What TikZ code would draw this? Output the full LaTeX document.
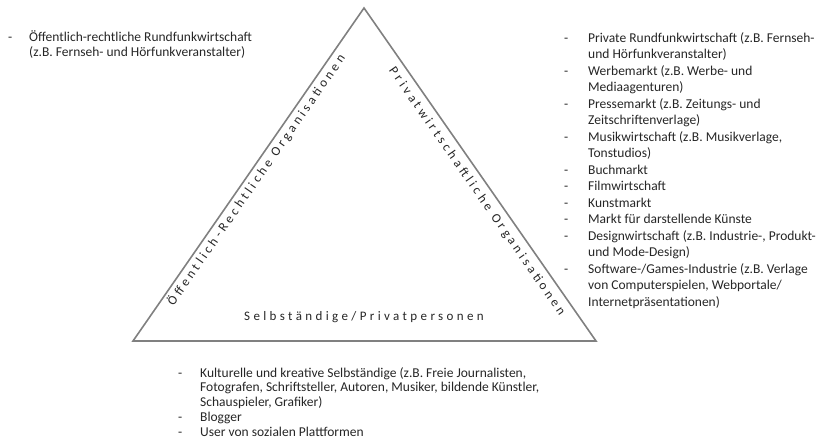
\documentclass[tikz,border=0pt]{standalone}
\usepackage{fontspec}
\setmainfont{Carlito}
\newfontfamily\spacedfont[LetterSpace=26]{Carlito}
% #1 = line distance, #2 = width of the dash column
\newenvironment{dashlist}[2]{\fontsize{13.5}{#1}\selectfont\begin{tabular}[t]{@{}p{#2}@{}l@{}}}{\end{tabular}}
\tikzset{
  edge/.style={draw=black!50, line width=1.6pt, line join=miter},
  listbox/.style={anchor=base west, inner sep=0pt, text=black!85},
  sidelabel/.style={font=\spacedfont\fontsize{13}{15}\selectfont, inner sep=0pt, text=black!85}
}
\begin{document}
\begin{tikzpicture}[x=1pt, y=-1pt]
  \useasboundingbox (0,0) rectangle (825,442);
  \coordinate (apex) at (364,8);
  \coordinate (left) at (133,341);
  \coordinate (right) at (596,341);

  \draw[edge] (left) -- (apex) -- (right) -- cycle;

  % labels along the three sides
  \path (left) -- (apex) node[sidelabel, sloped, pos=0.50, below=3pt] (pub) {Öffentlich-Rechtliche Organisationen};
  \path (apex) -- (right) node[sidelabel, sloped, pos=0.53, below=6.5pt] (priv) {Privatwirtschaftliche Organisationen};
  \node[sidelabel] (self) at (364,317) {Selbständige/Privatpersonen};

  % lists
  \node[listbox] (publist) at (8,41) {\begin{dashlist}{15.5}{21pt}
    - & Öffentlich-rechtliche Rundfunkwirtschaft\\
      & (z.B. Fernseh- und Hörfunkveranstalter)
  \end{dashlist}};

  \node[listbox] (privlist) at (564,42) {\begin{dashlist}{16.5}{24pt}
    - & Private Rundfunkwirtschaft (z.B. Fernseh-\\
      & und Hörfunkveranstalter)\\
    - & Werbemarkt (z.B. Werbe- und\\
      & Mediaagenturen)\\
    - & Pressemarkt (z.B. Zeitungs- und\\
      & Zeitschriftenverlage)\\
    - & Musikwirtschaft (z.B. Musikverlage,\\
      & Tonstudios)\\
    - & Buchmarkt\\
    - & Filmwirtschaft\\
    - & Kunstmarkt\\
    - & Markt für darstellende Künste\\
    - & Designwirtschaft (z.B. Industrie-, Produkt-\\
      & und Mode-Design)\\
    - & Software-/Games-Industrie (z.B. Verlage\\
      & von Computerspielen, Webportale/\\
      & Internetpräsentationen)
  \end{dashlist}};

  \node[listbox] (selflist) at (178,377) {\begin{dashlist}{14.8}{22pt}
    - & Kulturelle und kreative Selbständige (z.B. Freie Journalisten,\\
      & Fotografen, Schriftsteller, Autoren, Musiker, bildende Künstler,\\
      & Schauspieler, Grafiker)\\
    - & Blogger\\
    - & User von sozialen Plattformen
  \end{dashlist}};
\end{tikzpicture}
\end{document}
